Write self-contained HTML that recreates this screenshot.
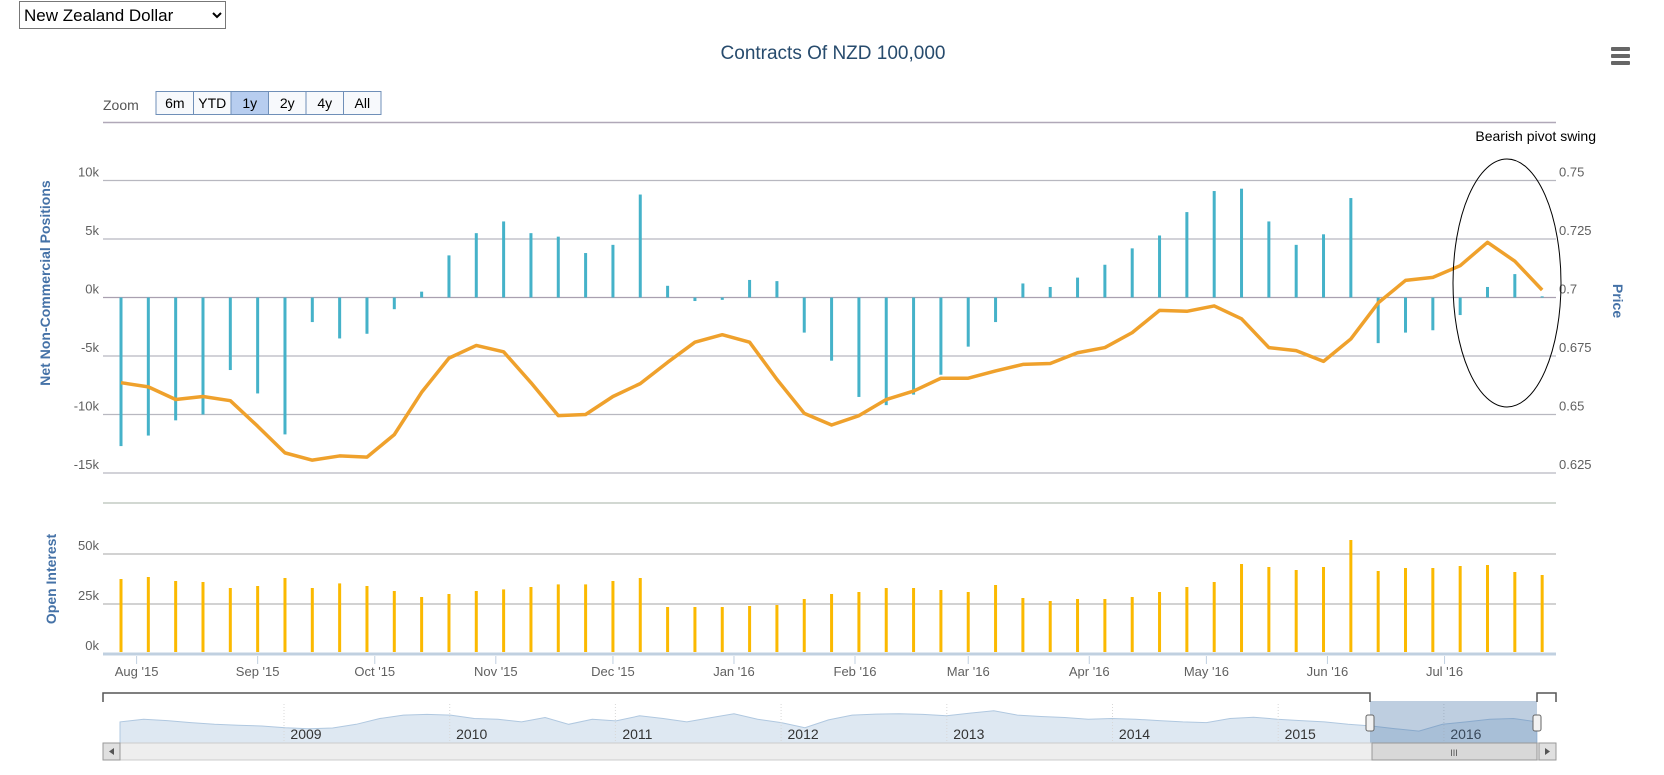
<!DOCTYPE html>
<html><head><meta charset="utf-8"><style>
html,body{margin:0;padding:0;background:#fff;width:1664px;height:775px;overflow:hidden;font-family:"Liberation Sans",sans-serif}
select{position:absolute;left:19px;top:1px;width:207px;height:28px;font-size:17px;font-family:"Liberation Sans",sans-serif;border:1px solid #777;background:#fff;color:#000}
svg{position:absolute;left:0;top:0}
</style></head><body>
<select><option>New Zealand Dollar</option></select>
<svg id="c" width="1664" height="775" xmlns="http://www.w3.org/2000/svg" font-family="Liberation Sans, sans-serif"></svg>
<script>
const netPositions=[-12.7,-11.8,-10.5,-10,-6.2,-8.2,-11.7,-2.1,-3.5,-3.1,-1,0.5,3.6,5.5,6.5,5.5,5.2,3.8,4.5,8.8,1,-0.3,-0.2,1.5,1.4,-3,-5.4,-8.5,-9.2,-8.3,-6.6,-4.2,-2.1,1.2,0.9,1.7,2.8,4.2,5.3,7.3,9.1,9.3,6.5,4.5,5.4,8.5,-3.9,-3,-2.8,-1.5,0.9,2,0.1];
const priceY=[360,364,376,373,377,401,426,433,429,430,409,369,337,325,331,360,391,390,373,361,341,322,315,322,357,389,400,391,376,368,356,356,349,343,342,332,327,313,292,293,288,300,327,330,340,319,285,264,261,250,228,246,273];
const prices=priceY.map(v=>+(0.7+(280-v)/55*0.025).toFixed(4));
const openInterest=[37.5,38.5,36.5,36,33,34,38,33,35.3,34,31.5,28.5,30,31.5,32.3,33.5,34.8,34.8,36.5,38,23.5,23.5,23.5,24,24.5,27.5,30,31,33,33,32,31,34.5,28,26.5,27.5,27.5,28.5,31,33.5,36,45,43.5,42,43.5,57,41.5,43,43,44,44.5,41,39.5];
const monthLabels=["Aug '15","Sep '15","Oct '15","Nov '15","Dec '15","Jan '16","Feb '16","Mar '16","Apr '16","May '16","Jun '16","Jul '16"];
const monthDays=[4,35,65,96,126,157,188,217,248,278,309,339];
const ncTicks=[10,5,0,-5,-10,-15];
const priceTicks=[0.75,0.725,0.7,0.675,0.65,0.625];
const oiTicks=[50,25,0];
const navYears=["2009","2010","2011","2012","2013","2014","2015","2016"];
const navSeries=[0.62,0.7,0.66,0.6,0.55,0.52,0.5,0.45,0.42,0.44,0.55,0.72,0.82,0.84,0.82,0.72,0.7,0.62,0.75,0.55,0.7,0.65,0.8,0.72,0.62,0.74,0.86,0.7,0.6,0.45,0.68,0.82,0.85,0.86,0.84,0.8,0.88,0.95,0.82,0.78,0.75,0.7,0.72,0.7,0.66,0.62,0.6,0.72,0.76,0.7,0.66,0.62,0.55,0.5,0.42,0.35,0.55,0.62,0.7,0.72,0.62];

const S=document.getElementById('c'),NS='http://www.w3.org/2000/svg';
function mk(t,a,p,txt){const e=document.createElementNS(NS,t);for(const k in a)e.setAttribute(k,a[k]);if(txt!==undefined)e.textContent=txt;(p||S).appendChild(e);return e;}
const L=103,R=1556;
const x0=121,step=27.33;
const xI=i=>x0+i*step;
const xD=d=>x0+d/7*step;
const yNC=v=>297.5-v*11.7;
const yP=v=>297.5-(v-0.7)/0.025*58.5;
const yOI=v=>654-v*2;

let e=mk('text',{x:833,y:59,'text-anchor':'middle','font-size':19,fill:'#274b6d'},S,'Contracts Of NZD 100,000');

const menu=mk('g',{});
[49,56,63].forEach(y=>mk('rect',{x:1611,y:y-2,width:19,height:4,rx:1,fill:'#666'},menu));

e=mk('text',{x:103,y:110,'font-size':14,fill:'#555'},S,'Zoom');
const btns=["6m","YTD","1y","2y","4y","All"];
btns.forEach((b,i)=>{const g=mk('g',{});
 const x=156+i*37.5;mk('rect',{x:x,y:91.5,width:37.5,height:23,fill:i==2?'#b7cdef':'#f7f9fc',stroke:'#6f8fb8','stroke-width':1},g);
 mk('text',{x:x+18.8,y:108,'text-anchor':'middle','font-size':14,fill:'#000'},g,b);});
mk('line',{x1:L,x2:R,y1:122.5,y2:122.5,stroke:'#b0a8b8','stroke-width':1.5});

ncTicks.forEach(t=>{const y=yNC(t);mk('line',{x1:L,x2:R,y1:y,y2:y,stroke:t==0?'#a9a0b0':'#b8b8c0','stroke-width':1.2});
 e=mk('text',{x:99,y:y-4,'text-anchor':'end','font-size':13,fill:'#606060'},S,t+'k');});
priceTicks.forEach(t=>{e=mk('text',{x:1559,y:yP(t)-4,'font-size':13,fill:'#606060'},S,String(t));});
e=mk('text',{transform:'translate(50,283) rotate(-90)','text-anchor':'middle','font-size':14,'font-weight':'bold',fill:'#4572a7'},S,'Net Non-Commercial Positions');
e=mk('text',{transform:'translate(1613,301) rotate(90)','text-anchor':'middle','font-size':14,'font-weight':'bold',fill:'#4572a7'},S,'Price');

netPositions.forEach((v,i)=>{const y0=yNC(0),y1=yNC(v);
 e=mk('rect',{x:xI(i)-1.5,y:Math.min(y0,y1),width:3,height:Math.max(1,Math.abs(y1-y0)),fill:'#45b2c9'});
 });
e=mk('polyline',{points:prices.map((p,i)=>xI(i)+','+yP(p)).join(' '),fill:'none',stroke:'#efa12c','stroke-width':3.5,'stroke-linejoin':'round'});


e=mk('text',{x:1596,y:141,'text-anchor':'end','font-size':14,fill:'#000'},S,'Bearish pivot swing');
e=mk('ellipse',{cx:1507,cy:283,rx:54,ry:124,fill:'none',stroke:'#000','stroke-width':1});

mk('line',{x1:L,x2:R,y1:503,y2:503,stroke:'#b8c0b8','stroke-width':1.2});
oiTicks.forEach(t=>{const y=yOI(t);mk('line',{x1:L,x2:R,y1:y,y2:y,stroke:t==0?'#c0d0e0':'#b8b8b8','stroke-width':t==0?3:1.2});
 e=mk('text',{x:99,y:y-4,'text-anchor':'end','font-size':13,fill:'#606060'},S,t+'k');});
e=mk('text',{transform:'translate(56,579) rotate(-90)','text-anchor':'middle','font-size':14,'font-weight':'bold',fill:'#4572a7'},S,'Open Interest');
openInterest.forEach((v,i)=>{const y=yOI(v);e=mk('rect',{x:xI(i)-1.5,y:y,width:3,height:652-y,fill:'#fbb901'});
 });
monthLabels.forEach((m,i)=>{const x=xD(monthDays[i]);mk('line',{x1:x,x2:x,y1:656,y2:664,stroke:'#c0d0e0'});
 e=mk('text',{x:x,y:676,'text-anchor':'middle','font-size':13,fill:'#606060'},S,m);});

const nav=mk('g',{});
const nx0=120,nx1=1537,ny0=704,ny1=743;
const pts=navSeries.map((v,i)=>(nx0+i*(nx1-nx0)/(navSeries.length-1)).toFixed(1)+','+(ny1-v*34).toFixed(1));
mk('polygon',{points:nx0+','+ny1+' '+pts.join(' ')+' '+nx1+','+ny1,fill:'#d8e4f0','fill-opacity':0.85,stroke:'#b0c8e0','stroke-width':1},nav);
for(let i=0;i<navYears.length;i++){const x=284+i*165.7;mk('line',{x1:x,x2:x,y1:ny0,y2:ny1,stroke:'#d8d8d8','stroke-dasharray':'1,2'},nav);
 mk('text',{x:x+22,y:739,'text-anchor':'middle','font-size':14,fill:'#333'},nav,navYears[i]);}
mk('rect',{x:1370,y:701,width:167,height:42,fill:'#4572a7','fill-opacity':0.35},nav);
mk('polyline',{points:L+',702 '+L+',693 1370,693 1370,702',fill:'none',stroke:'#555','stroke-width':1.5},nav);
mk('polyline',{points:'1537,702 1537,693 '+R+',693 '+R+',702',fill:'none',stroke:'#555','stroke-width':1.5},nav);
[1370,1537].forEach(x=>{mk('rect',{x:x-4,y:715,width:8,height:16,rx:2,fill:'#f2f2f2',stroke:'#666'},nav);});
const sb=mk('g',{});
mk('rect',{x:L,y:743,width:R-L,height:17,fill:'#eeeeee',stroke:'#ccc'},sb);
mk('rect',{x:L,y:743,width:17,height:17,fill:'#e0e0e0',stroke:'#999'},sb);
mk('path',{d:'M114,748 L109,751.5 L114,755 Z',fill:'#555'},sb);
mk('rect',{x:R-17,y:743,width:17,height:17,fill:'#e0e0e0',stroke:'#999'},sb);
mk('path',{d:'M1545,748 L1550,751.5 L1545,755 Z',fill:'#555'},sb);
mk('rect',{x:1372,y:743,width:165,height:17,fill:'#d8d8d8',stroke:'#999'},sb);
mk('text',{x:1454,y:756,'text-anchor':'middle','font-size':9,fill:'#555'},sb,'III');
</script>
</body></html>
